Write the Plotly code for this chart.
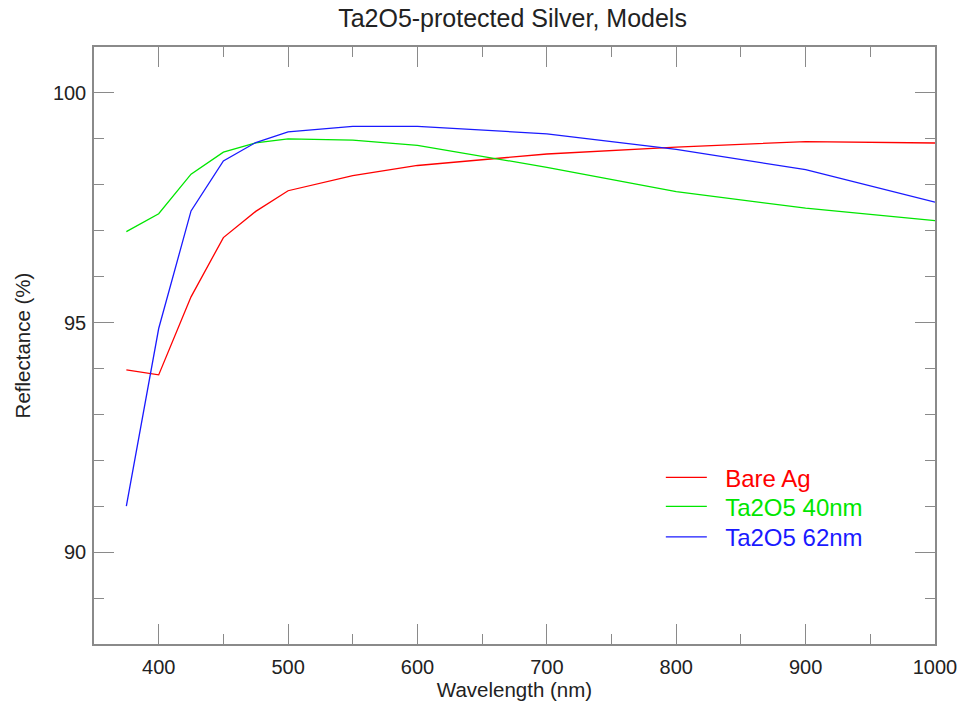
import plotly.graph_objects as go

wavelength = [375, 400, 425, 450, 475, 500, 550, 600, 700, 800, 900, 1000]
bare_ag = [93.97, 93.86, 95.56, 96.85, 97.42, 97.87, 98.20, 98.42, 98.67, 98.82, 98.94, 98.91]
ta2o5_40 = [96.98, 97.37, 98.23, 98.71, 98.91, 99.00, 98.97, 98.86, 98.38, 97.85, 97.49, 97.22]
ta2o5_62 = [91.00, 94.87, 97.43, 98.52, 98.92, 99.15, 99.27, 99.27, 99.11, 98.77, 98.33, 97.62]

series_names = ["Bare Ag", "Ta2O5 40nm", "Ta2O5 62nm"]
colors = ["#ff0000", "#00e600", "#1a1aff"]
series = [bare_ag, ta2o5_40, ta2o5_62]
legend_ids = ["legend", "legend2", "legend3"]
legend_y = [0.2786, 0.230, 0.1787]

FONT = "Liberation Sans, Arial, Helvetica"

fig = go.Figure()
for name, col, vals, lid in zip(series_names, colors, series, legend_ids):
    fig.add_trace(go.Scatter(
        x=wavelength, y=vals, mode="lines",
        line=dict(color=col, width=1.3),
        name=f'<span style="color:{col}">&nbsp;&nbsp;{name}</span>',
        legend=lid,
    ))

axis_common = dict(
    showgrid=False, zeroline=False, automargin=False,
    showline=True, linecolor="#8a8a8a", linewidth=1.5,
    mirror="allticks", ticks="inside", ticklen=20, tickwidth=1.2,
    tickcolor="#8a8a8a",
    tickfont=dict(family=FONT, size=20, color="#222"),
    title_font=dict(family=FONT, size=20.5, color="#222"),
)

fig.update_xaxes(
    range=[350, 1000], tickvals=[400, 500, 600, 700, 800, 900, 1000],
    minor=dict(dtick=50, tick0=350, ticks="inside", ticklen=10, tickcolor="#8a8a8a", tickwidth=1.2),
    title_text="Wavelength (nm)", title_standoff=6, ticklabelstandoff=4,
    **axis_common,
)
fig.update_yaxes(
    range=[88, 101], tickvals=[90, 95, 100],
    minor=dict(dtick=1, tick0=88, ticks="inside", ticklen=10, tickcolor="#8a8a8a", tickwidth=1.2),
    title_text="Reflectance (%)", title_standoff=17, ticklabelstandoff=2,
    **axis_common,
)

legend_common = dict(
    x=0.674, xanchor="left", yanchor="middle",
    bgcolor="rgba(0,0,0,0)", borderwidth=0,
    font=dict(family=FONT, size=24), itemwidth=41,
)

fig.update_layout(
    width=958, height=710,
    margin=dict(l=94, r=23, t=47, b=66),
    paper_bgcolor="white", plot_bgcolor="white",
    title=dict(text="Ta2O5-protected Silver, Models", x=0.535, xanchor="center",
               y=0.9746, yanchor="middle", pad=dict(t=0, b=0),
               font=dict(family=FONT, size=25, color="#222")),
    font=dict(family=FONT),
    legend=dict(y=legend_y[0], **legend_common),
    legend2=dict(y=legend_y[1], **legend_common),
    legend3=dict(y=legend_y[2], **legend_common),
    showlegend=True,
)

fig.write_html("out.html", config={"displayModeBar": False},
               post_script="document.body.style.margin='0';")
